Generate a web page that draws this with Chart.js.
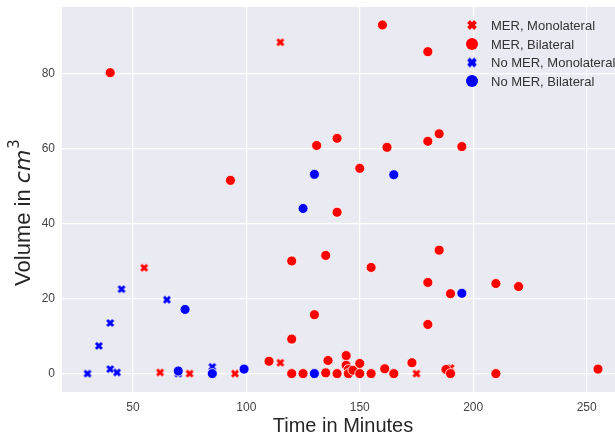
<!DOCTYPE html>
<html>
<head>
<meta charset="utf-8">
<script src="https://cdn.jsdelivr.net/npm/chart.js@4/dist/chart.umd.min.js"></script>
<style>
  body { margin: 0; background: #fff; }
  #chart { display: block; }
</style>
</head>
<body>
<canvas id="chart" width="615" height="437"></canvas>
<script>
// data (time in minutes, volume in cm3)
const groups = ['MER, Monolateral', 'MER, Bilateral', 'No MER, Monolateral', 'No MER, Bilateral'];

const merMonoX = [115, 55, 62, 75, 95, 115, 175, 190];
const merMonoY = [88.3, 28.2, 0.3, 0, 0, 2.9, 0, 1.5];

const merBiX = [40, 93, 160, 180, 131, 140, 162, 180, 185, 195, 150, 140, 135, 155, 185, 180, 190, 210, 220, 130, 180,
  120, 120, 110, 120, 125, 135, 136, 140, 144, 144, 145, 145, 147, 150, 150, 155, 161, 165, 173, 188, 190, 210, 255];
const merBiY = [80.2, 51.5, 92.9, 85.8, 60.8, 62.7, 60.3, 61.9, 63.9, 60.5, 54.7, 43.0, 31.5, 28.3, 32.9, 24.3, 21.3, 24.0, 23.2, 15.7, 13.1,
  30.0, 9.2, 3.3, 0, 0, 0.2, 3.5, 0, 4.8, 2.2, 1.1, 0, 0.9, 2.7, 0, 0, 1.3, 0, 2.9, 1.1, 0, 0, 1.2];

const noMonoX = [30, 35, 40, 40, 43, 45, 65, 70, 85];
const noMonoY = [0, 7.4, 13.5, 1.2, 0.3, 22.5, 19.7, 0, 1.8];

const noBiX = [70, 73, 85, 99, 125, 130, 165, 195, 130];
const noBiY = [0.7, 17.1, 0, 1.2, 44, 53.1, 53, 21.4, 0];

const xTicks = [50, 100, 150, 200, 250];
const yTicks = [0, 20, 40, 60, 80];

const RED = '#ff0000';
const BLUE = '#0000ff';

function pts(xs, ys) {
  return xs.map((x, i) => ({ x: x, y: ys[i] }));
}

// filled "X" marker like matplotlib's
function makeX(color, size, lw) {
  const c = document.createElement('canvas');
  c.width = size; c.height = size;
  const g = c.getContext('2d');
  const a = lw / 2 + 0.5, b = size - a;
  const arms = () => {
    g.beginPath();
    g.moveTo(a, a); g.lineTo(b, b);
    g.moveTo(b, a); g.lineTo(a, b);
    g.stroke();
  };
  g.lineCap = 'butt';
  g.strokeStyle = '#fff'; g.lineWidth = lw + 1; arms();
  g.strokeStyle = color; g.lineWidth = lw; arms();
  return c;
}

const xRed = makeX(RED, 10, 3);
const xBlue = makeX(BLUE, 10, 3);

const styles = [
  { color: RED, cross: true },
  { color: RED, cross: false },
  { color: BLUE, cross: true },
  { color: BLUE, cross: false }
];

const bgPlugin = {
  id: 'bg',
  beforeDraw(chart) {
    const { ctx, chartArea: a } = chart;
    ctx.save();
    ctx.fillStyle = '#eaeaf2';
    ctx.fillRect(a.left, a.top, a.right - a.left, a.bottom - a.top);
    ctx.restore();
  }
};

const labelsPlugin = {
  id: 'labels',
  afterDraw(chart) {
    const ctx = chart.ctx;
    ctx.save();
    ctx.fillStyle = '#262626';

    // x title
    ctx.font = '20px "Liberation Sans", Arial, sans-serif';
    ctx.textAlign = 'center';
    ctx.textBaseline = 'alphabetic';
    ctx.fillText('Time in Minutes', 343, 432);

    // y title with italic cm and superscript 3
    const f1 = '22px "Liberation Sans", Arial, sans-serif';
    const f2 = 'italic 22px "DejaVu Sans", sans-serif';
    const f3 = '15px "DejaVu Sans", sans-serif';
    ctx.font = f1; const w1 = ctx.measureText('Volume in ').width;
    ctx.font = f2; const w2 = ctx.measureText('cm').width;
    ctx.font = f3; const w3 = ctx.measureText('3').width;
    const total = w1 + w2 + w3;
    ctx.translate(30, 213);
    ctx.rotate(-Math.PI / 2);
    ctx.textAlign = 'left';
    let x0 = -total / 2;
    ctx.font = f1; ctx.fillText('Volume in ', x0, 0); x0 += w1;
    ctx.font = f2; ctx.fillText('cm', x0, 0); x0 += w2;
    ctx.font = f3; ctx.fillText('3', x0 + 1, -11);
    ctx.restore();

    // legend inside the plot, top right
    ctx.save();
    ctx.font = '13px "Liberation Sans", Arial, sans-serif';
    ctx.textBaseline = 'middle';
    ctx.textAlign = 'left';
    const rows = [25, 44, 62.5, 81];
    groups.forEach((name, i) => {
      const s = styles[i], y = rows[i];
      if (s.cross) {
        const m = makeX(s.color, 12, 4);
        ctx.drawImage(m, 472 - 6, y - 6);
      } else {
        ctx.beginPath();
        ctx.arc(472, y, 6, 0, Math.PI * 2);
        ctx.fillStyle = s.color;
        ctx.fill();
      }
      ctx.fillStyle = '#333';
      ctx.fillText(name, 491, y + 1);
    });
    ctx.restore();
  }
};

function dataset(i, xs, ys, order) {
  const s = styles[i];
  return {
    label: groups[i],
    data: pts(xs, ys),
    order: order,
    pointStyle: s.cross ? (s.color === RED ? xRed : xBlue) : 'circle',
    pointRadius: 5,
    pointHoverRadius: 5,
    backgroundColor: s.color,
    borderColor: '#fff',
    borderWidth: s.cross ? 0 : 0.8
  };
}

new Chart(document.getElementById('chart'), {
  type: 'scatter',
  data: {
    datasets: [
      dataset(0, merMonoX, merMonoY, 3),
      dataset(1, merBiX, merBiY, 1),
      dataset(2, noMonoX, noMonoY, 2),
      dataset(3, noBiX, noBiY, 0)
    ]
  },
  options: {
    responsive: false,
    animation: false,
    layout: { autoPadding: false, padding: { top: 7, left: 0, right: 0, bottom: 0 } },
    plugins: { legend: { display: false }, tooltip: { enabled: false } },
    scales: {
      x: {
        type: 'linear',
        min: 18.75,
        max: 262.5,
        afterBuildTicks: s => { s.ticks = xTicks.map(v => ({ value: v })); },
        afterFit: s => { s.height = 45; s.paddingLeft = 0; s.paddingRight = 0; },
        grid: { color: '#fff', lineWidth: 1.2, drawTicks: false },
        border: { display: false },
        ticks: { color: '#444', padding: 8, font: { family: '"Liberation Sans", Arial, sans-serif', size: 12 } }
      },
      y: {
        type: 'linear',
        min: -4.9,
        max: 97.7,
        afterBuildTicks: s => { s.ticks = yTicks.map(v => ({ value: v })); },
        afterFit: s => { s.width = 62; s.paddingTop = 0; s.paddingBottom = 0; },
        grid: { color: '#fff', lineWidth: 1.2, drawTicks: false },
        border: { display: false },
        ticks: { color: '#444', padding: 7, font: { family: '"Liberation Sans", Arial, sans-serif', size: 12 } }
      }
    }
  },
  plugins: [bgPlugin, labelsPlugin]
});
</script>
</body>
</html>
